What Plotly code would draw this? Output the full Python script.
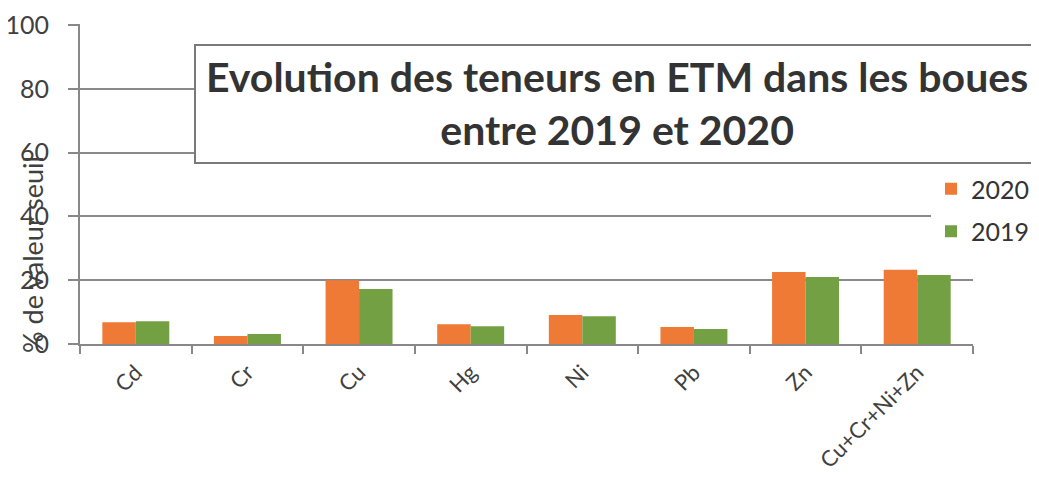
import plotly.graph_objects as go

categories = ["Cd", "Cr", "Cu", "Hg", "Ni", "Pb", "Zn", "Cu+Cr+Ni+Zn"]
values_2020 = [6.8, 2.5, 20.0, 6.2, 9.1, 5.3, 22.6, 23.3]
values_2019 = [7.1, 3.1, 17.2, 5.6, 8.7, 4.7, 21.0, 21.6]
y_ticks = [0, 20, 40, 60, 80, 100]

title_text = "Evolution des teneurs en ETM dans les boues<br>entre 2019 et 2020"
y_title = "% de valeur seuil"

OFF = 8  # page body margin
W, H = 1039 - OFF, 477 - OFF
L, T = 80 - OFF, 24 - OFF
B = H - (344 - OFF)
R = W - (973 - OFF)
pw = W - L - R
ph = H - T - B

def px_x(x):  # page pixel -> paper coordinate
    return (x - OFF - L) / pw

def px_y(y):
    return (H - B - (y - OFF)) / ph

fig = go.Figure()
fig.add_trace(go.Bar(name="2020", x=categories, y=values_2020, legendgroup="a",
                     marker=dict(color="#EE7A36", line=dict(width=0))))
fig.add_trace(go.Bar(name="2019", x=categories, y=values_2019, legendgroup="b",
                     marker=dict(color="#72A043", line=dict(width=0))))

font_fam = "Lato, Open Sans, sans-serif"

fig.update_layout(
    width=W, height=H,
    margin=dict(l=L, r=R, t=T, b=B, autoexpand=False),
    paper_bgcolor="white", plot_bgcolor="white",
    barmode="group", bargap=0.4, bargroupgap=0,
    font=dict(family=font_fam, color="#404040"),
    showlegend=True,
    legend=dict(x=px_x(931), y=px_y(166), xanchor="left", yanchor="top",
                bgcolor="white", font=dict(size=25, color="#333333"),
                itemwidth=30, tracegroupgap=7),
    xaxis=dict(type="category", tickangle=-45, tickfont=dict(size=22, color="#404040"),
               showline=True, linecolor="#888888", linewidth=2,
               ticks="outside", ticklen=8, tickcolor="#888888", tickwidth=2,
               tickson="boundaries", showgrid=False, automargin=False,
               ticklabelstandoff=5),
    yaxis=dict(range=[0, 100.3], tickvals=y_ticks, tickfont=dict(size=25, color="#404040"),
               showline=True, linecolor="#888888", linewidth=2,
               ticks="outside", ticklen=10, tickcolor="#888888", tickwidth=2,
               showgrid=True, gridcolor="#8a8a8a", gridwidth=2, zeroline=False,
               automargin=False, ticklabelstandoff=14),
)

# Title box
fig.add_shape(type="rect", xref="paper", yref="paper",
              x0=px_x(195), x1=px_x(1070), y0=px_y(163), y1=px_y(45),
              fillcolor="white", line=dict(color="#7a7a7a", width=2), layer="above")
fig.add_annotation(text="<b>" + title_text + "</b>", xref="paper", yref="paper",
                   x=px_x(617), y=px_y(103), xanchor="center", yanchor="middle",
                   showarrow=False, align="center",
                   font=dict(size=41, color="#333333", family=font_fam))

# Y axis title (overlapping tick labels as in the reference)
fig.add_annotation(text=y_title, xref="paper", yref="paper",
                   x=px_x(32), y=px_y(255), xanchor="center", yanchor="middle",
                   textangle=-90, showarrow=False,
                   font=dict(size=27, color="#404040", family=font_fam))

fig.write_html("out.html")
